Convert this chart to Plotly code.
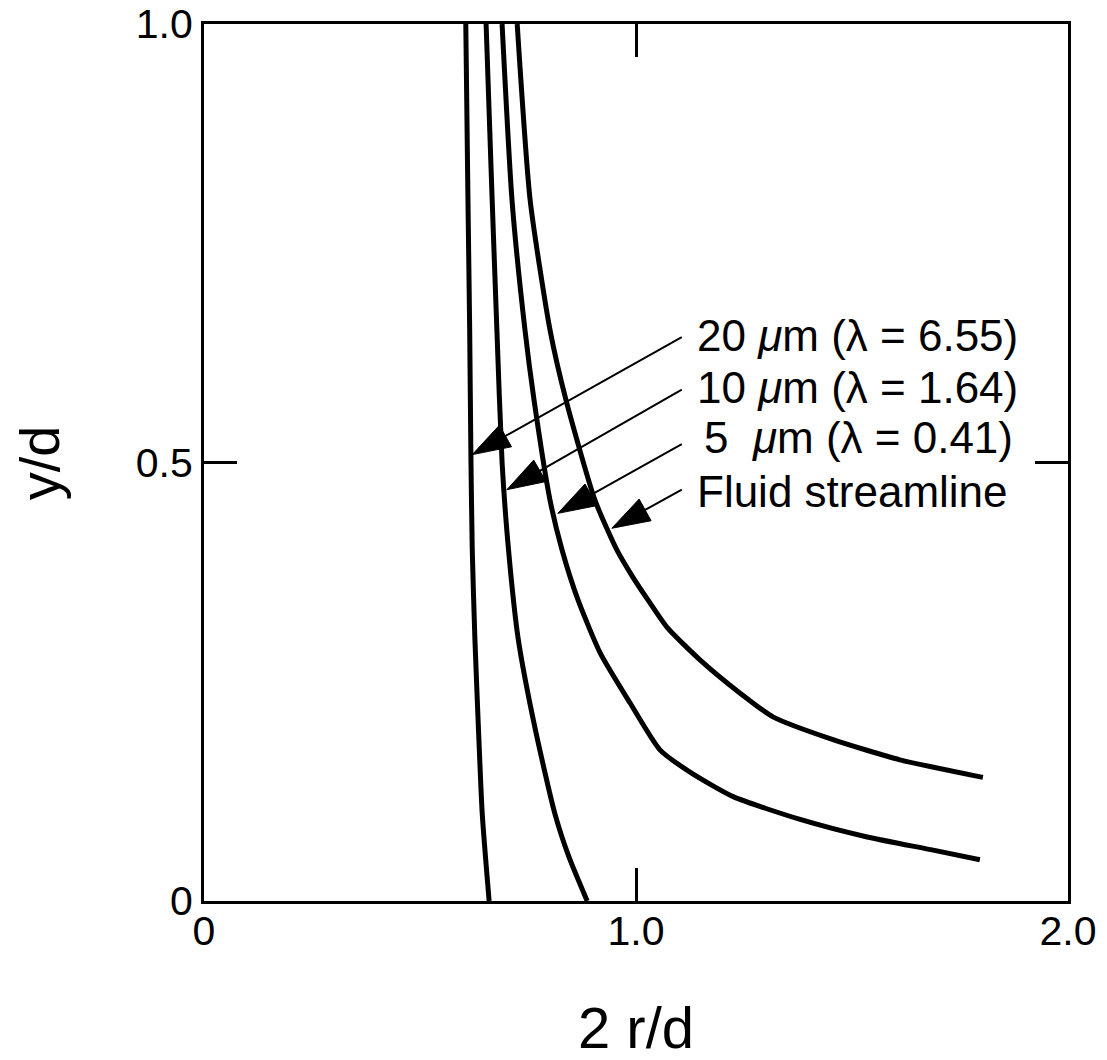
import plotly.graph_objects as go

# ---- data ----
y_20um = [1.0, 0.8, 0.651, 0.5, 0.4, 0.3, 0.2, 0.1, 0.0]
x_20um = [0.606, 0.611, 0.615, 0.618, 0.621, 0.627, 0.635, 0.644, 0.660]

y_10um = [1.0, 0.8, 0.651, 0.5, 0.4, 0.3, 0.2, 0.1, 0.05, 0.0]
x_10um = [0.653, 0.667, 0.678, 0.690, 0.705, 0.727, 0.765, 0.812, 0.845, 0.887]

x_5um = [0.690, 0.713, 0.743, 0.764, 0.801, 0.829, 0.866, 0.917, 0.986, 1.056, 1.125,
         1.225, 1.380, 1.535, 1.688, 1.796]
y_5um = [1.0, 0.799, 0.651, 0.571, 0.457, 0.400, 0.343, 0.283, 0.226, 0.172, 0.147,
         0.119, 0.093, 0.073, 0.058, 0.047]

x_fluid = [0.725, 0.755, 0.801, 0.838, 0.905, 0.956, 0.993, 1.028, 1.072, 1.148, 1.241,
           1.317, 1.456, 1.611, 1.803]
y_fluid = [1.0, 0.799, 0.651, 0.571, 0.457, 0.400, 0.369, 0.343, 0.312, 0.275, 0.237,
           0.210, 0.184, 0.161, 0.141]

labels = ["20 <i>μ</i>m (λ = 6.55)", "10 <i>μ</i>m (λ = 1.64)",
          "5\u00a0 <i>μ</i>m (λ = 0.41)", "Fluid streamline"]
label_x = [1.137, 1.137, 1.153, 1.137]
label_y = [0.645, 0.586, 0.528, 0.4675]
arrow_tail_x = [1.106, 1.106, 1.106, 1.106]
arrow_tail_y = [0.643, 0.583, 0.521, 0.469]
arrow_tip_x = [0.621, 0.701, 0.819, 0.944]
arrow_tip_y = [0.509, 0.469, 0.442, 0.425]

x_tickvals = [0, 1, 2]
x_ticktext = ["0", "1.0", "2.0"]
y_tickvals = [0, 0.5, 1]
y_ticktext = ["0", "0.5", "1.0"]
x_title = "2 r/d"
y_title = "y/d"

FONT = "Liberation Sans, Arial, Helvetica, sans-serif"

fig = go.Figure()
for xs, ys, nm in [(x_20um, y_20um, "20 μm"), (x_10um, y_10um, "10 μm"),
                   (x_5um, y_5um, "5 μm"), (x_fluid, y_fluid, "Fluid streamline")]:
    fig.add_trace(go.Scatter(x=xs, y=ys, mode="lines", name=nm,
                             line=dict(color="black", width=5, shape="spline", smoothing=0.6),
                             showlegend=False, hoverinfo="skip"))

# pointer arrows: a thin line from the label to the curve, with an arrow marker at the tip
for tx, ty, hx, hy in zip(arrow_tail_x, arrow_tail_y, arrow_tip_x, arrow_tip_y):
    fig.add_trace(go.Scatter(x=[tx, hx], y=[ty, hy], mode="lines+markers",
                             line=dict(color="black", width=2),
                             marker=dict(symbol="arrow", size=[0, 40], angleref="previous",
                                         color="black", opacity=1,
                                         line=dict(width=1, color="black")),
                             showlegend=False, hoverinfo="skip"))

for t, lx, ly in zip(labels, label_x, label_y):
    fig.add_annotation(x=lx, y=ly, xref="x", yref="y", text=t, showarrow=False,
                       xanchor="left", yanchor="middle",
                       font=dict(family=FONT, size=44, color="black"))

# y-axis title placed as a rotated annotation so it can sit close to the page edge
fig.add_annotation(x=-0.19, y=0.5, xref="paper", yref="paper", text=y_title,
                   textangle=-90, showarrow=False, xanchor="center", yanchor="middle",
                   font=dict(family=FONT, size=56, color="black"))

# page body adds an 8px offset; size the figure to fill the 1107x1060 window exactly
fig.update_layout(
    width=1099, height=1052,
    margin=dict(l=196, r=39, t=16, b=159, autoexpand=False),
    paper_bgcolor="white", plot_bgcolor="white",
    font=dict(family=FONT, color="black", size=41),
    showlegend=False,
)
fig.update_xaxes(range=[0, 2], tickvals=x_tickvals, ticktext=x_ticktext, automargin=False,
                 showgrid=False, zeroline=False, showline=True, linecolor="black", linewidth=3,
                 mirror="ticks", ticks="inside", ticklen=33, tickwidth=2.5, tickcolor="black",
                 tickfont=dict(family=FONT, size=41, color="black"),
                 ticklabeloverflow="allow", ticklabelstandoff=-8,
                 title=dict(text=x_title, font=dict(family=FONT, size=58, color="black"), standoff=62))
fig.update_yaxes(range=[0, 1], tickvals=y_tickvals, ticktext=y_ticktext, automargin=False,
                 showgrid=False, zeroline=False, showline=True, linecolor="black", linewidth=3,
                 mirror="ticks", ticks="inside", ticklen=33, tickwidth=2.5, tickcolor="black",
                 tickfont=dict(family=FONT, size=41, color="black"),
                 ticklabeloverflow="allow")

fig.write_html("out.html")
